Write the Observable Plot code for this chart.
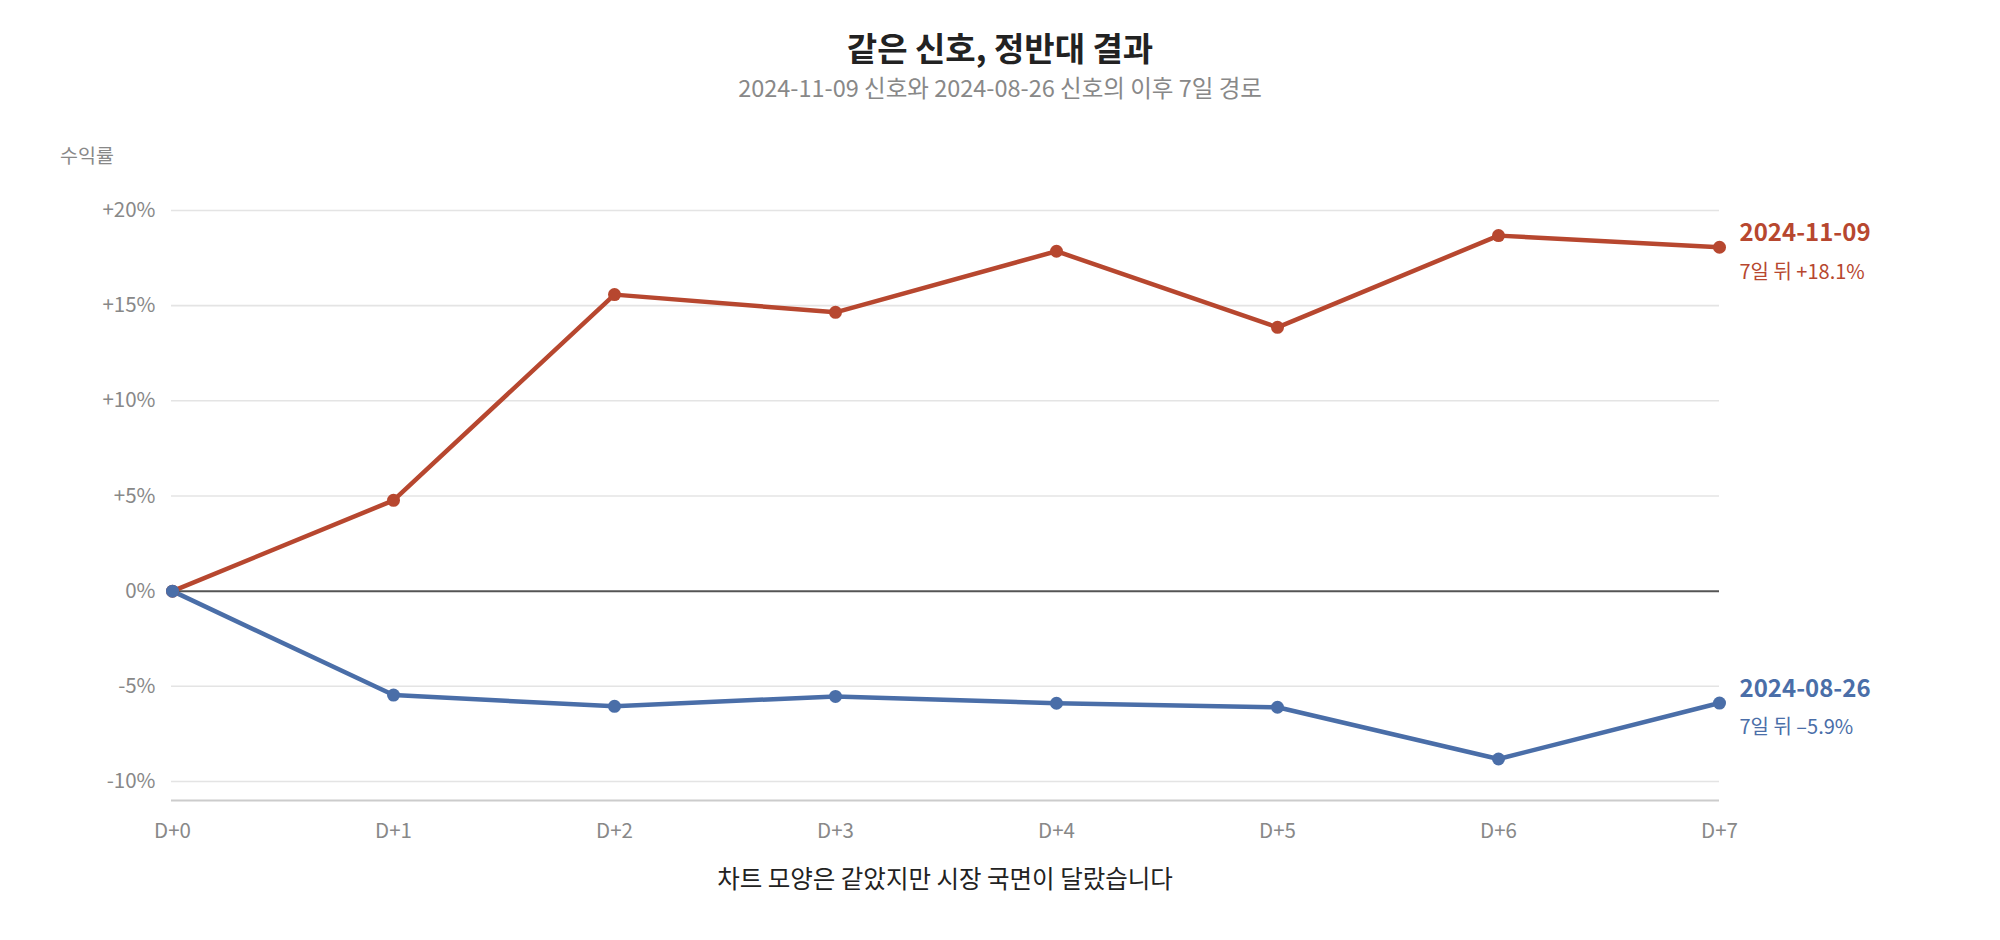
<!DOCTYPE html>
<html><head><meta charset="utf-8">
<script src="https://cdn.jsdelivr.net/npm/d3@7"></script>
<script src="https://cdn.jsdelivr.net/npm/@observablehq/plot@0.6"></script>
<style>
  html,body{margin:0;padding:0;background:#fff;}
  body{width:2000px;height:940px;position:relative;font-family:"Noto Sans CJK KR","Noto Sans",sans-serif;}
  .abs{position:absolute;white-space:nowrap;}
  #title{left:0;width:2000px;top:27px;text-align:center;font-size:33px;font-weight:700;color:#222;line-height:40px;}
  #subtitle{left:0;width:2000px;top:72px;text-align:center;font-size:23.5px;color:#888;line-height:30px;}
  #ylabel{left:60px;top:142px;font-size:19.5px;color:#888;line-height:26px;}
  #caption{left:171px;width:1548px;top:861px;text-align:center;font-size:24.5px;color:#222;line-height:34px;}
  #chart{position:absolute;left:0;top:110px;}
</style>
</head><body>
<div id="title" class="abs">같은 신호, 정반대 결과</div>
<div id="subtitle" class="abs">2024-11-09 신호와 2024-08-26 신호의 이후 7일 경로</div>
<div id="ylabel" class="abs">수익률</div>
<div id="chart"></div>
<div id="caption" class="abs">차트 모양은 같았지만 시장 국면이 달랐습니다</div>
<script>
const days = ["D+0","D+1","D+2","D+3","D+4","D+5","D+6","D+7"];
const seriesNames = ["2024-11-09","2024-08-26"];
const seriesColors = ["#b7472f","#4a6ea8"];
const returnsNov = [0, 4.77, 15.58, 14.65, 17.86, 13.86, 18.68, 18.07];
const returnsAug = [0, -5.46, -6.05, -5.53, -5.89, -6.1, -8.82, -5.88];
const endLabels = ["7일 뒤 +18.1%", "7일 뒤 –5.9%"];
const yTicks = [-10, -5, 0, 5, 10, 15, 20];
const gridTicks = [-10, -5, 5, 10, 15, 20];
const yDomain = [-11, 20];

const rows = [];
[returnsNov, returnsAug].forEach((vals, si) => {
  vals.forEach((v, i) => rows.push({series: seriesNames[si], day: days[i], value: v}));
});
const lastRows = seriesNames.map((s, si) => ({series: s, day: days[days.length-1], value: [returnsNov, returnsAug][si][days.length-1], sub: endLabels[si]}));
const fmt = v => v > 0 ? `+${v}%` : `${v}%`;

const plot = Plot.plot({
  width: 2000,
  height: 740,
  marginLeft: 171,
  marginRight: 281,
  marginTop: 100,
  marginBottom: 50,
  style: {fontFamily: '"Noto Sans CJK KR","Noto Sans",sans-serif', background: "transparent"},
  x: {type: "point", domain: days, padding: 0, label: null},
  y: {domain: yDomain, label: null},
  color: {domain: seriesNames, range: seriesColors},
  marks: [
    Plot.gridY(gridTicks, {stroke: "#e4e4e4", strokeOpacity: 1, strokeWidth: 1.6}),
    Plot.ruleY([yDomain[0]], {stroke: "#cccccc", strokeWidth: 2}),
    Plot.ruleY([0], {stroke: "#555", strokeWidth: 2}),
    Plot.axisY({ticks: yTicks, tickFormat: fmt, tickSize: 0, tickPadding: 16, fontSize: 20.5, fill: "#888", label: null}),
    Plot.axisX({tickSize: 0, tickPadding: 23, fontSize: 20.5, fill: "#888", label: null}),
    Plot.line(rows, {x: "day", y: "value", z: "series", stroke: "series", strokeWidth: 4.5}),
    Plot.dot(rows, {x: "day", y: "value", fill: "series", r: 6.5}),
    Plot.text(lastRows, {x: "day", y: "value", text: "series", fill: "series", textAnchor: "start", dx: 20, dy: -14, fontSize: 24, fontWeight: 600}),
    Plot.text(lastRows, {x: "day", y: "value", text: "sub", fill: "series", textAnchor: "start", dx: 20, dy: 25, fontSize: 20}),
  ]
});
document.getElementById("chart").appendChild(plot);
</script>
</body></html>
